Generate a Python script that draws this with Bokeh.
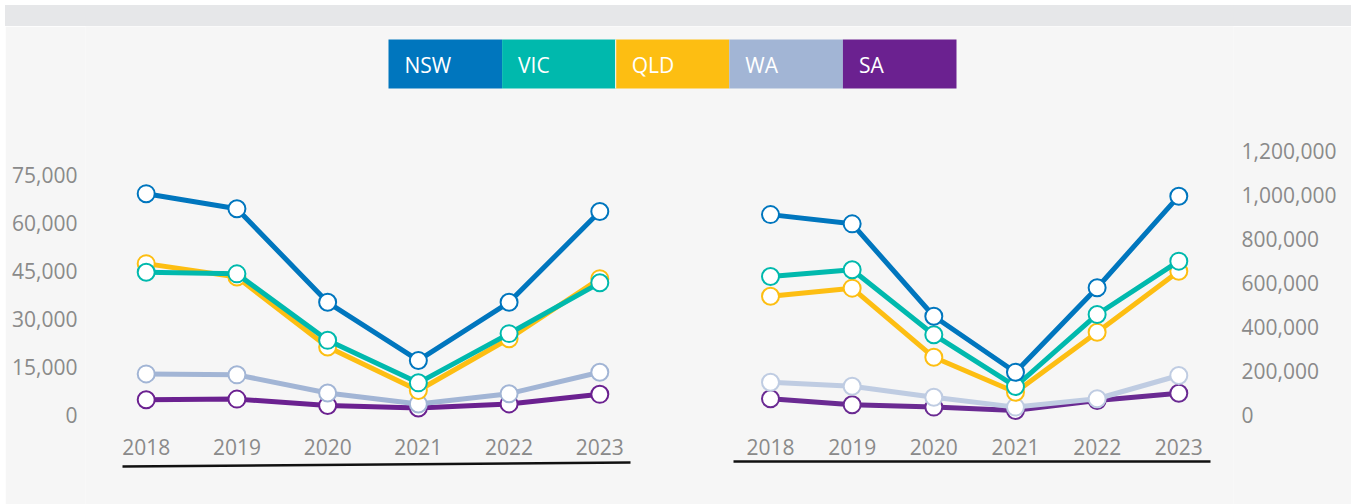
from bokeh.plotting import figure
from bokeh.layouts import column, row
from bokeh.models import Range1d, LinearAxis, FixedTicker, NumeralTickFormatter, ColumnDataSource, Spacer, Div
from bokeh.core.properties import value
from bokeh.embed import file_html
from bokeh.resources import INLINE

# ---------------- data ----------------
years = [2018, 2019, 2020, 2021, 2022, 2023]
year_labels = ["2018", "2019", "2020", "2021", "2022", "2023"]
states = ["NSW", "VIC", "QLD", "WA", "SA"]

left_nsw = [69300, 64600, 35300, 17100, 35300, 63700]
left_vic = [44700, 44200, 23400, 10100, 25500, 41400]
left_qld = [47400, 43200, 21300, 7700, 23900, 42700]
left_wa = [12900, 12600, 6900, 3500, 6700, 13400]
left_sa = [4800, 5000, 3000, 2200, 3500, 6500]

right_nsw = [912000, 870000, 449000, 194000, 579000, 996000]
right_vic = [630000, 661000, 365000, 129000, 457000, 700000]
right_qld = [540000, 577000, 262000, 103000, 376000, 654000]
right_wa = [148000, 130000, 80000, 35000, 73000, 179000]
right_sa = [73000, 46000, 35000, 20000, 65000, 98000]

left_ticks = [0, 15000, 30000, 45000, 60000, 75000]
right_ticks = [0, 200000, 400000, 600000, 800000, 1000000, 1200000]

# ---------------- styles ----------------
colors = {"NSW": "#0076be", "VIC": "#00b9ad", "QLD": "#fdbe12", "WA": "#a2b5d5", "SA": "#6b2190"}
right_colors = dict(colors, WA="#bfcce2", SA="#6a2a92")
BG = "#f6f6f6"
BAND = "#e6e7e9"
FONT = "Open Sans"
TICK_COLOR = "#8a8a8a"

W = 1346

band = Div(text="", width=W, height=21, margin=0, styles={"background-color": BAND})

# main figure: default ranges are page pixel coordinates
main = figure(width=W, height=478, output_backend="svg", toolbar_location=None,
              x_range=Range1d(85, 1233), y_range=Range1d(504, 26),
              min_border_left=80, min_border_right=118, min_border_top=0, min_border_bottom=0,
              background_fill_color=BG, border_fill_color=BG)
main.axis.visible = False
main.grid.visible = False
main.outline_line_color = None

main.extra_y_ranges = {
    "ly": Range1d(-27979, 121616),
    "ry": Range1d(-408673, 1769095),
}
main.extra_x_ranges = {
    "lx": Range1d(2018 - (145.7 - 85) / 90.72, 2018 + (1233 - 145.7) / 90.72),
    "rx": Range1d(2018 - (770 - 85) / 81.66, 2018 + (1233 - 770) / 81.66),
}

# axes
lax = LinearAxis(y_range_name="ly", ticker=FixedTicker(ticks=left_ticks),
                 formatter=NumeralTickFormatter(format="0,0"))
rax = LinearAxis(y_range_name="ry", ticker=FixedTicker(ticks=right_ticks),
                 formatter=NumeralTickFormatter(format="0,0"))
for ax in (lax, rax):
    ax.axis_line_color = None
    ax.major_tick_line_color = None
    ax.minor_tick_line_color = None
    ax.major_tick_out = 0
    ax.major_tick_in = 0
    ax.major_label_standoff = 8
    ax.major_label_text_font = FONT
    ax.major_label_text_font_size = "21px"
    ax.major_label_text_color = TICK_COLOR
main.add_layout(lax, "left")
main.add_layout(rax, "right")

# series
left_data = {"NSW": left_nsw, "VIC": left_vic, "QLD": left_qld, "WA": left_wa, "SA": left_sa}
right_data = {"NSW": right_nsw, "VIC": right_vic, "QLD": right_qld, "WA": right_wa, "SA": right_sa}
draw_order = ["SA", "WA", "QLD", "VIC", "NSW"]

for data, cols, xr, yr in ((left_data, colors, "lx", "ly"), (right_data, right_colors, "rx", "ry")):
    for s in draw_order:
        src = ColumnDataSource(dict(x=years, y=data[s]))
        main.line("x", "y", source=src, x_range_name=xr, y_range_name=yr,
                  line_color=cols[s], line_width=5, line_join="round")
        main.scatter("x", "y", source=src, x_range_name=xr, y_range_name=yr,
                     size=17, fill_color="white", line_color=cols[s], line_width=2)

# year labels
for xr in ("lx", "rx"):
    main.text(x=years, y=[446] * len(years), text=year_labels, x_range_name=xr,
              text_font=value(FONT), text_font_size="21px", text_color=TICK_COLOR,
              text_align="center", text_baseline="middle")

# baselines under x labels
main.segment(x0=[122, 733], y0=[466, 461], x1=[630, 1210], y1=[462, 461],
             line_color="#111111", line_width=2.5)

# legend boxes
box_w = 113.6
x0 = 388
lx = [x0 + box_w * (i + 0.5) for i in range(len(states))]
main.rect(x=lx, y=[63.5] * len(states), width=[box_w] * len(states), height=[49] * len(states),
          fill_color=[colors[s] for s in states], line_color=None)
main.segment(x0=[x0 + 2 * box_w], y0=[39], x1=[x0 + 2 * box_w], y1=[88], line_color="white", line_width=1)
main.text(x=[x0 + box_w * i + 16 for i in range(len(states))], y=[64.5] * len(states), text=states,
          text_font=value(FONT), text_font_size="21px", text_color="white",
          text_align="left", text_baseline="middle")

layout = row(Spacer(width=5, height=504),
             column(Spacer(width=W, height=5), band, main, spacing=0),
             spacing=0)
open("out.html", "w").write(file_html(layout, INLINE))
